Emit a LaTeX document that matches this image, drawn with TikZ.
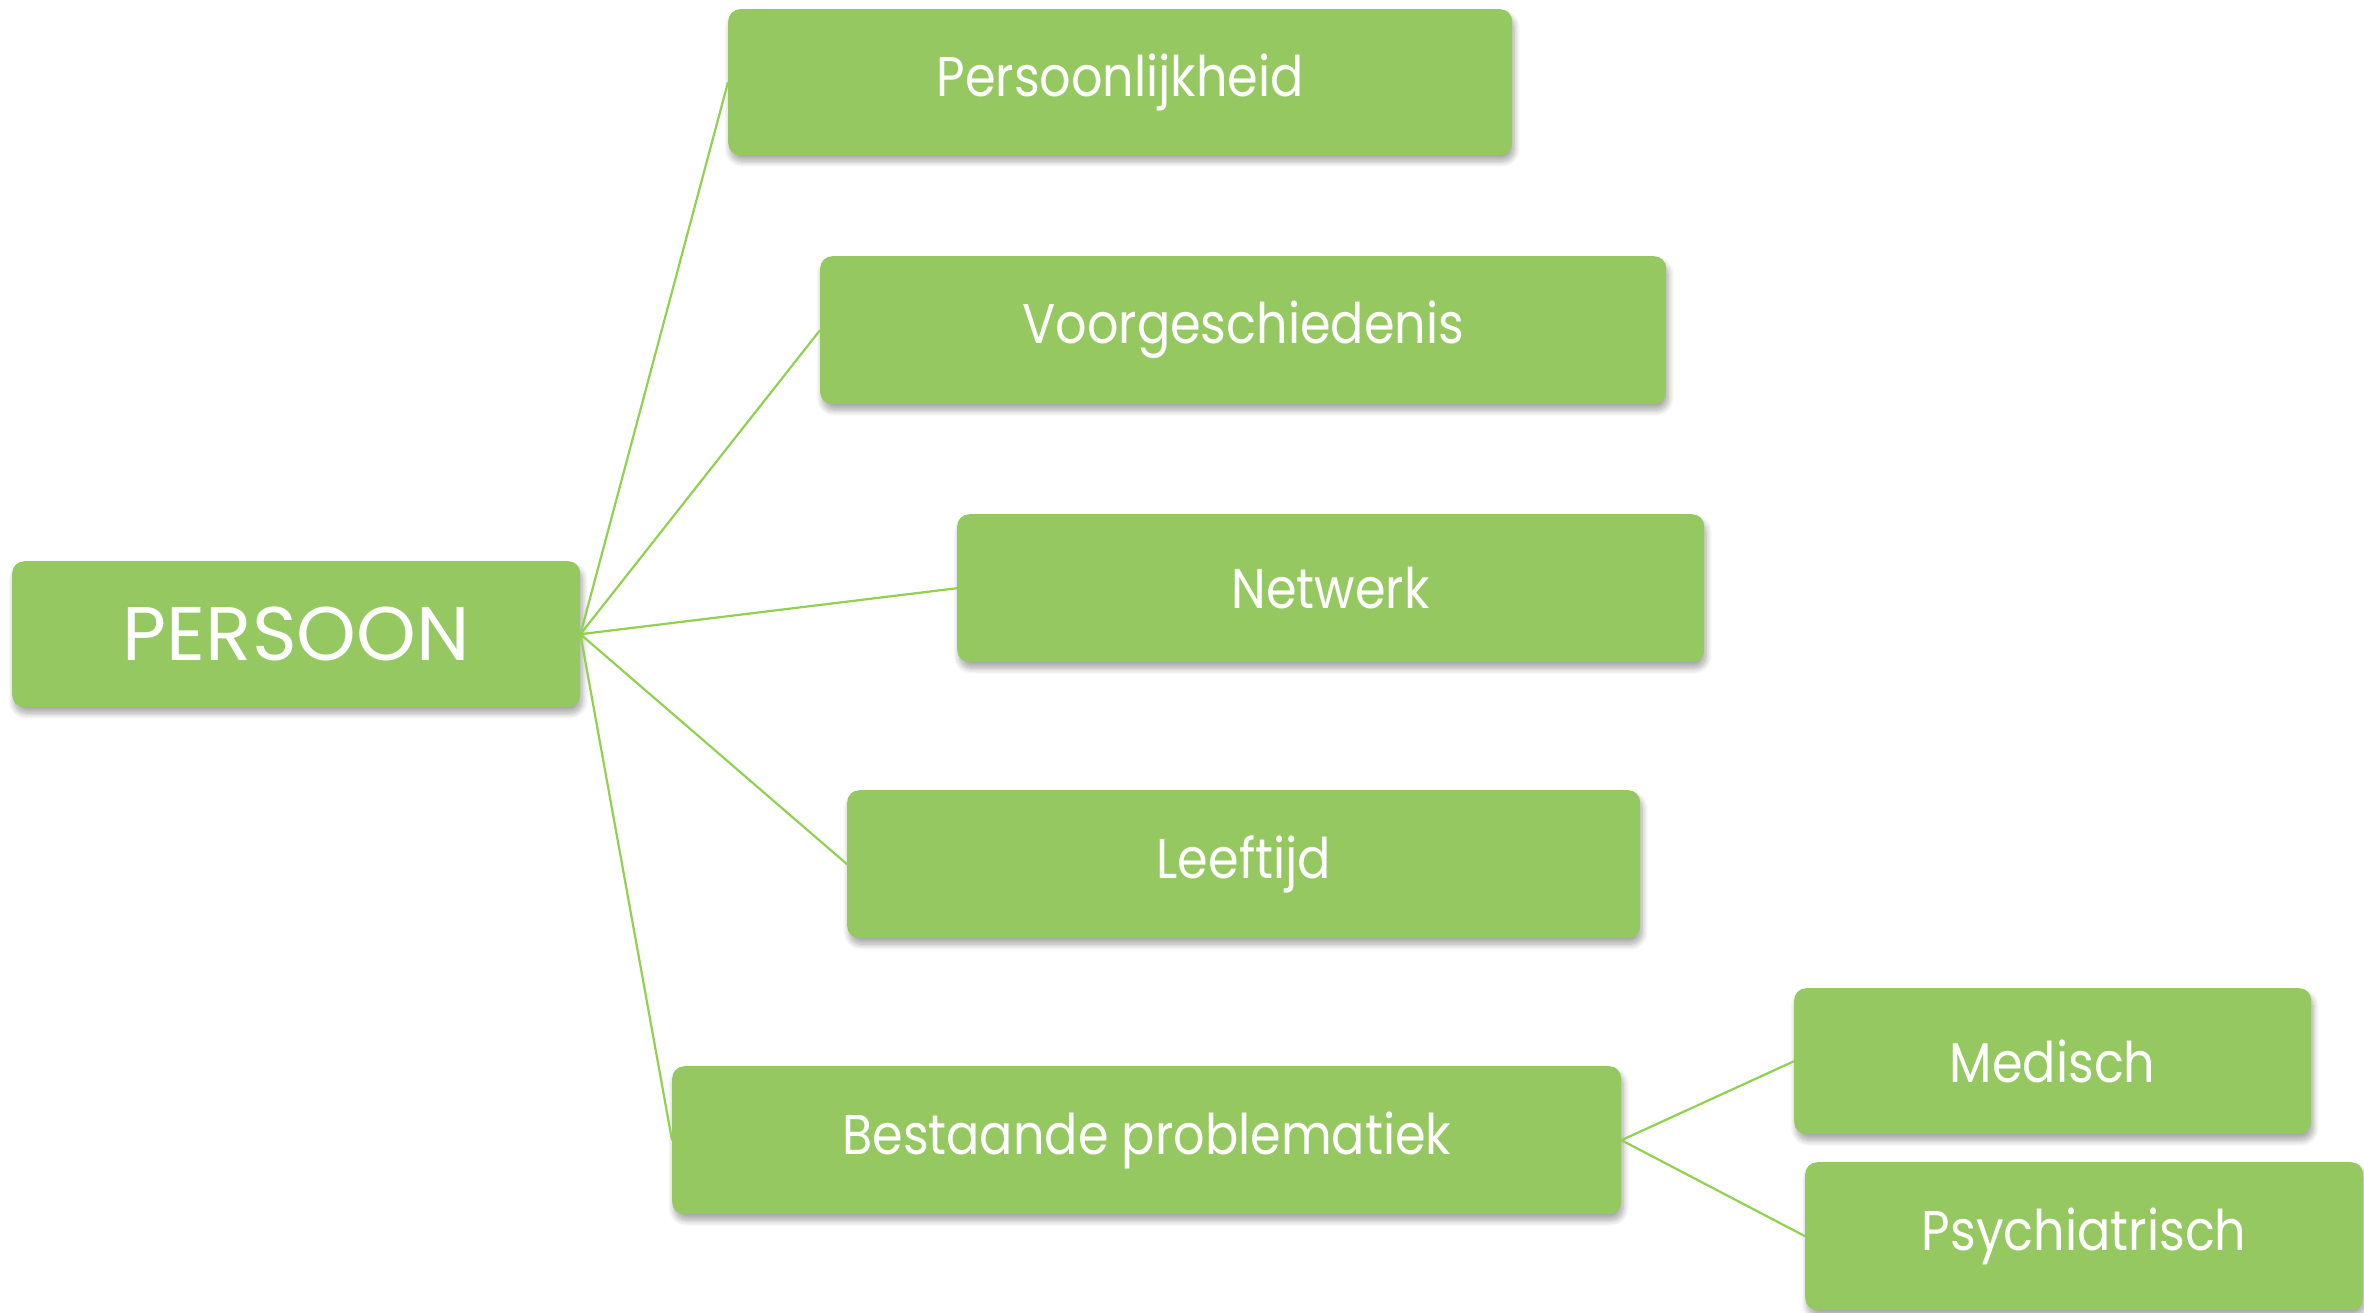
\documentclass[tikz,border=0pt]{standalone}
\usepackage{fontspec}
\setmainfont{Poppins}[FakeStretch=0.88]
\newfontfamily\titlefont{Poppins}
\usetikzlibrary{shadows.blur}
\definecolor{boxfill}{HTML}{96C862}
\definecolor{linkgreen}{HTML}{92D050}
\tikzset{
  leaf/.style={rectangle, rounded corners=12pt, fill=boxfill, anchor=north west,
    text=white, inner sep=0pt, font=\fontsize{56}{66}\selectfont,
    blur shadow={shadow xshift=2pt, shadow yshift=-6pt, shadow blur steps=10,
      shadow blur radius=6pt, shadow opacity=35}},
  link/.style={draw=linkgreen, line width=2.2pt}
}
\begin{document}
\begin{tikzpicture}[x=1pt, y=-1pt]
\useasboundingbox (0,0) rectangle (2364,1312);
\node[leaf, minimum width=568pt, minimum height=146pt, font=\titlefont\fontsize{76}{86}\selectfont] (root) at (12,561) {PERSOON};
\node[leaf, minimum width=784pt, minimum height=146pt] (pers) at (728,9) {Persoonlijkheid};
\node[leaf, minimum width=846pt, minimum height=148pt] (voor) at (820,256) {Voorgeschiedenis};
\node[leaf, minimum width=747pt, minimum height=148pt] (netw) at (957,514) {Netwerk};
\node[leaf, minimum width=793pt, minimum height=148pt] (leef) at (847,790) {Leeftijd};
\node[leaf, minimum width=949pt, minimum height=148pt] (best) at (672,1066) {Bestaande problematiek};
\node[leaf, minimum width=517pt, minimum height=146pt] (med) at (1794,988) {Medisch};
\node[leaf, minimum width=558pt, minimum height=148pt] (psy) at (1805,1162) {Psychiatrisch};
\foreach \n in {pers,voor,netw,leef,best}
  \draw[link] (root.east) -- (\n.west);
\draw[link] (best.east) -- (med.west);
\draw[link] (best.east) -- (psy.west);
\end{tikzpicture}
\end{document}
